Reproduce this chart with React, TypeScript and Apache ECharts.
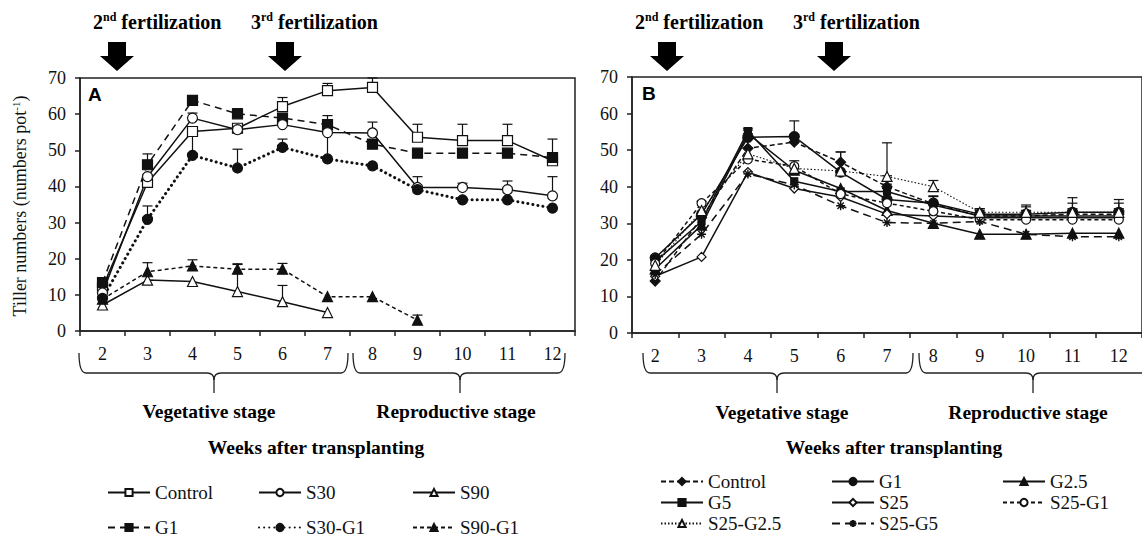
import React, { useEffect, useRef } from 'react';
import * as echarts from 'echarts';

const SERIF = 'Liberation Serif';
const SANS = 'Liberation Sans';
const INK = '#111';

const weeks = ['2', '3', '4', '5', '6', '7', '8', '9', '10', '11', '12'];
const yMin = 0;
const yMax = 70;
const yStep = 10;

// Panel A
const aControl = [12.0, 41.1, 55.2, 56.1, 62.1, 66.5, 67.4, 53.6, 52.7, 52.7, 47.1];
const aControlErr = [0, 1.2, 1.0, 0, 2.5, 2.0, 2.6, 3.6, 4.5, 4.5, 6.0];
const aG1 = [13.4, 46.0, 63.8, 60.1, 58.9, 57.1, 51.7, 49.2, 49.2, 49.2, 48.0];
const aG1Err = [0, 3.0, 0.8, 1.4, 1.2, 2.5, 1.2, 0, 0, 0, 1.0];
const aS30 = [10.5, 42.7, 58.9, 55.7, 57.1, 54.9, 54.8, 39.7, 39.7, 39.1, 37.4];
const aS30Err = [0, 0.5, 1.4, 0, 0, 0, 3.0, 3.0, 1.2, 2.4, 5.3];
const aS30G1 = [9.0, 30.9, 48.6, 45.1, 50.8, 47.6, 45.7, 39.1, 36.3, 36.3, 34.0];
const aS30G1Err = [0, 3.7, 6.5, 5.2, 2.3, 7.3, 0, 0, 0, 0, 0];
const aS90 = [7.2, 14.1, 13.7, 10.9, 8.1, 5.1, null, null, null, null, null];
const aS90Err = [0, 0, 0, 7.5, 4.5, 0, 0, 0, 0, 0, 0];
const aS90G1 = [8.8, 16.4, 18.0, 17.1, 17.1, 9.5, 9.5, 3.0, null, null, null];
const aS90G1Err = [0, 2.5, 1.7, 1.5, 1.6, 0, 0, 1.4, 0, 0, 0];

// Panel B
const bControl = [14.2, 31.5, 50.5, 52.2, 46.7, 40.0, 35.3, 32.0, 32.0, 32.5, 32.5];
const bControlErr = [0, 0, 0, 1.5, 2.8, 3.0, 2.0, 2.0, 2.5, 3.0, 3.0];
const bG1 = [20.5, 32.5, 53.5, 53.7, 44.0, 36.5, 35.5, 32.5, 32.5, 33.0, 33.0];
const bG1Err = [0, 0, 1.0, 4.3, 5.5, 3.0, 2.0, 1.5, 2.5, 4.0, 3.5];
const bG25 = [17.5, 29.5, 54.5, 44.5, 39.5, 33.5, 30.0, 27.0, 27.0, 27.3, 27.3];
const bG25Err = [0, 0, 1.0, 0, 0, 0, 0, 0, 0, 0, 0];
const bG5 = [19.5, 30.5, 55.2, 41.5, 38.7, 38.7, 35.0, 32.0, 32.0, 32.0, 32.0];
const bG5Err = [0, 0, 0.8, 0, 0, 2.0, 0, 1.0, 1.5, 2.0, 2.0];
const bS25 = [15.5, 20.8, 44.0, 39.5, 37.2, 32.5, 32.0, 31.5, 31.5, 31.5, 31.5];
const bS25Err = [0, 0, 0, 0, 0, 0, 0, 0, 0, 0, 0];
const bS25G1 = [19.0, 35.5, 47.5, 45.6, 38.0, 35.5, 33.3, 31.0, 31.0, 31.0, 31.0];
const bS25G1Err = [0, 0.5, 0, 1.5, 0, 0, 0, 0, 0, 0, 0];
const bS25G25 = [18.5, 33.5, 49.0, 45.0, 44.3, 42.8, 40.0, 33.0, 33.0, 33.0, 33.0];
const bS25G25Err = [0, 0, 0, 0, 0, 9.2, 1.7, 0.5, 0.5, 0.5, 0.5];
const bS25G5 = [16.0, 27.0, 43.5, 40.5, 34.8, 30.2, 30.0, 30.5, 27.0, 26.3, 26.3];
const bS25G5Err = [0, 0, 0, 0, 0, 0, 0, 0, 0, 0, 0];

const ASTERISK = 'path://M0,5L10,5M5,0L5,10M1.5,1.5L8.5,8.5M8.5,1.5L1.5,8.5';

type Spec = {
  name: string;
  data: (number | null)[];
  err: number[];
  symbol: string;
  size: number;
  filled: boolean;
  dash: any;
  width?: number;
  cap?: string;
};

const panelA: Spec[] = [
  { name: 'Control', data: aControl, err: aControlErr, symbol: 'rect', size: 10, filled: false, dash: 'solid' },
  { name: 'G1', data: aG1, err: aG1Err, symbol: 'rect', size: 10, filled: true, dash: [7, 5] },
  { name: 'S30', data: aS30, err: aS30Err, symbol: 'circle', size: 10, filled: false, dash: 'solid' },
  { name: 'S30-G1', data: aS30G1, err: aS30G1Err, symbol: 'circle', size: 10, filled: true, dash: [0.1, 5], width: 3, cap: 'round' },
  { name: 'S90', data: aS90, err: aS90Err, symbol: 'triangle', size: 10, filled: false, dash: 'solid' },
  { name: 'S90-G1', data: aS90G1, err: aS90G1Err, symbol: 'triangle', size: 10, filled: true, dash: [4, 3] },
];

const panelB: Spec[] = [
  { name: 'Control', data: bControl, err: bControlErr, symbol: 'diamond', size: 10, filled: true, dash: [5, 3] },
  { name: 'G1', data: bG1, err: bG1Err, symbol: 'circle', size: 10, filled: true, dash: 'solid' },
  { name: 'G2.5', data: bG25, err: bG25Err, symbol: 'triangle', size: 10, filled: true, dash: 'solid' },
  { name: 'G5', data: bG5, err: bG5Err, symbol: 'rect', size: 7, filled: true, dash: 'solid' },
  { name: 'S25', data: bS25, err: bS25Err, symbol: 'diamond', size: 9, filled: false, dash: 'solid' },
  { name: 'S25-G1', data: bS25G1, err: bS25G1Err, symbol: 'circle', size: 9, filled: false, dash: [4, 3] },
  { name: 'S25-G2.5', data: bS25G25, err: bS25G25Err, symbol: 'triangle', size: 10, filled: false, dash: [1.5, 2], width: 1.1 },
  { name: 'S25-G5', data: bS25G5, err: bS25G5Err, symbol: ASTERISK, size: 9, filled: false, dash: [8, 5] },
];

function lineSeries(s: Spec, idx: number, prefix: string) {
  return {
    type: 'line',
    name: prefix + s.name,
    xAxisIndex: idx,
    yAxisIndex: idx,
    data: s.data,
    symbol: s.symbol,
    symbolSize: s.size,
    connectNulls: false,
    z: 3,
    lineStyle: { color: INK, width: s.width ?? 1.5, type: s.dash, cap: s.cap ?? 'butt' },
    itemStyle: {
      color: s.filled ? INK : '#fff',
      borderColor: INK,
      borderWidth: s.symbol === ASTERISK ? 1.4 : 1.2,
    },
    emphasis: { disabled: true },
  };
}

function errorSeries(specs: Spec[], idx: number) {
  const data: number[][] = [];
  specs.forEach((s) => {
    s.data.forEach((v, i) => {
      if (v !== null && s.err[i] > 0) data.push([i, v, v + s.err[i]]);
    });
  });
  return {
    type: 'custom',
    xAxisIndex: idx,
    yAxisIndex: idx,
    z: 2,
    silent: true,
    clip: false,
    encode: { x: 0, y: [1, 2] },
    data,
    renderItem: (params: any, api: any) => {
      const x = api.value(0);
      const lo = api.coord([x, api.value(1)]);
      const hi = api.coord([x, api.value(2)]);
      const st = { stroke: INK, lineWidth: 1.2 };
      return {
        type: 'group',
        children: [
          { type: 'line', shape: { x1: lo[0], y1: lo[1], x2: hi[0], y2: hi[1] }, style: st },
          { type: 'line', shape: { x1: hi[0] - 5, y1: hi[1], x2: hi[0] + 5, y2: hi[1] }, style: st },
        ],
      };
    },
  };
}

function xAxis(idx: number) {
  return {
    type: 'category',
    gridIndex: idx,
    data: weeks,
    boundaryGap: true,
    axisLine: { lineStyle: { color: '#222', width: 1.5 } },
    axisTick: { show: true, length: 5, lineStyle: { color: '#222', width: 1.5 } },
    axisLabel: { fontFamily: SERIF, fontSize: 18, color: INK, margin: 14 },
    splitLine: { show: false },
  };
}

function yAxis(idx: number) {
  return {
    type: 'value',
    gridIndex: idx,
    min: yMin,
    max: yMax,
    interval: yStep,
    axisLine: { show: true, lineStyle: { color: '#222', width: 1.5 } },
    axisTick: { show: true, length: 5, lineStyle: { color: '#222', width: 1.5 } },
    axisLabel: { fontFamily: SERIF, fontSize: 18, color: INK, margin: 14 },
    splitLine: { show: false },
  };
}

function arrow(cx: number) {
  return {
    type: 'polygon',
    shape: {
      points: [
        [cx - 9, 42], [cx + 9, 42], [cx + 9, 56], [cx + 17, 56], [cx, 71], [cx - 17, 56], [cx - 9, 56],
      ],
    },
    style: { fill: '#000' },
  };
}

const boldRich = {
  b: { fontSize: 20, fontWeight: 'bold', fontFamily: SERIF, fill: '#000', lineHeight: 22 },
  s: { fontSize: 12, fontWeight: 'bold', fontFamily: SERIF, fill: '#000', lineHeight: 13, verticalAlign: 'top' },
};

function fertText(x: number, num: string, sup: string) {
  return {
    type: 'text',
    x,
    y: 22,
    style: {
      text: `{b|${num}}{s|${sup}}{b| fertilization}`,
      rich: boldRich,
      verticalAlign: 'middle',
    },
  };
}

function label(x: number, y: number, text: string) {
  return {
    type: 'text',
    x,
    y,
    style: {
      text,
      fontSize: 19.5,
      fontWeight: 'bold',
      fontFamily: SERIF,
      fill: '#000',
      align: 'center',
      verticalAlign: 'middle',
    },
  };
}

function brace(xa: number, xb: number, xm: number) {
  const yTop = 353;
  const yLine = 373;
  const yTip = 393;
  const r = 7;
  const st = { stroke: '#222', lineWidth: 1.3, fill: null };
  return [
    { type: 'bezierCurve', shape: { x1: xa, y1: yTop, cpx1: xa, cpy1: yLine, x2: xa + r, y2: yLine }, style: st },
    { type: 'line', shape: { x1: xa + r, y1: yLine, x2: xm - r, y2: yLine }, style: st },
    { type: 'bezierCurve', shape: { x1: xm - r, y1: yLine, cpx1: xm, cpy1: yLine, x2: xm, y2: yLine + r }, style: st },
    { type: 'bezierCurve', shape: { x1: xm + r, y1: yLine, cpx1: xm, cpy1: yLine, x2: xm, y2: yLine + r }, style: st },
    { type: 'line', shape: { x1: xm, y1: yLine + r, x2: xm, y2: yTip }, style: st },
    { type: 'line', shape: { x1: xm + r, y1: yLine, x2: xb - r, y2: yLine }, style: st },
    { type: 'bezierCurve', shape: { x1: xb - r, y1: yLine, cpx1: xb, cpy1: yLine, x2: xb, y2: yTop }, style: st },
  ];
}

function legend(left: number, top: number, gap: number, names: string[], strip: boolean) {
  return {
    show: true,
    orient: 'vertical',
    left,
    top,
    padding: 0,
    itemGap: gap,
    itemWidth: 42,
    itemHeight: 9,
    selectedMode: false,
    data: names,
    formatter: strip ? (n: string) => n.slice(2) : (n: string) => n,
    textStyle: { fontFamily: SERIF, fontSize: 19, color: INK, padding: [0, 0, 0, 0] },
  };
}

export default function App() {
  const ref = useRef<HTMLDivElement>(null);
  useEffect(() => {
    if (!ref.current) return;
    const chart = echarts.init(ref.current, undefined, { renderer: 'svg' });
    const option: any = {
      animation: false,
      backgroundColor: '#fff',
      grid: [
        { left: 80, top: 78, width: 495, height: 253, show: true, borderColor: '#222', borderWidth: 1.5 },
        { left: 632, top: 77, width: 521, height: 256, show: true, borderColor: '#222', borderWidth: 1.5 },
      ],
      xAxis: [xAxis(0), xAxis(1)],
      yAxis: [yAxis(0), yAxis(1)],
      legend: [
        legend(107, 483, 16, ['Control', 'G1'], false),
        legend(258, 483, 16, ['S30', 'S30-G1'], false),
        legend(412, 483, 16, ['S90', 'S90-G1'], false),
        legend(660, 472, 2, ['B:Control', 'B:G5', 'B:S25-G2.5'], true),
        legend(831, 472, 2, ['B:G1', 'B:S25', 'B:S25-G5'], true),
        legend(1002, 472, 2, ['B:G2.5', 'B:S25-G1'], true),
      ],
      series: [
        errorSeries(panelA, 0),
        ...panelA.map((s) => lineSeries(s, 0, '')),
        errorSeries(panelB, 1),
        ...panelB.map((s) => lineSeries(s, 1, 'B:')),
      ],
      graphic: [
        fertText(93, '2', 'nd'),
        fertText(251, '3', 'rd'),
        fertText(635, '2', 'nd'),
        fertText(793, '3', 'rd'),
        arrow(117),
        arrow(285),
        arrow(667),
        arrow(834),
        {
          type: 'text',
          x: 88,
          y: 94,
          style: { text: 'A', fontSize: 19, fontWeight: 'bold', fontFamily: SANS, fill: '#000', verticalAlign: 'middle' },
        },
        {
          type: 'text',
          x: 642,
          y: 93,
          style: { text: 'B', fontSize: 19, fontWeight: 'bold', fontFamily: SANS, fill: '#000', verticalAlign: 'middle' },
        },
        {
          type: 'text',
          x: 20,
          y: 206,
          rotation: Math.PI / 2,
          style: {
            text: '{n|Tiller numbers (numbers pot}{s|-1}{n|)}',
            rich: {
              n: { fontSize: 18, fontFamily: SERIF, fill: INK, lineHeight: 20 },
              s: { fontSize: 11, fontFamily: SERIF, fill: INK, lineHeight: 12, verticalAlign: 'top' },
            },
            align: 'center',
            verticalAlign: 'middle',
          },
        },
        ...brace(79, 348, 214),
        ...brace(353, 565, 460),
        ...brace(643, 913, 777),
        ...brace(919, 1160, 1033),
        label(209, 411, 'Vegetative stage'),
        label(456, 411, 'Reproductive stage'),
        label(316, 447, 'Weeks after transplanting'),
        label(782, 412, 'Vegetative stage'),
        label(1028, 412, 'Reproductive stage'),
        label(894, 447, 'Weeks after transplanting'),
      ],
    };
    chart.setOption(option);
    return () => chart.dispose();
  }, []);
  return (
    <div
      ref={ref}
      style={{ position: 'fixed', left: 0, top: 0, width: 1142, height: 537, background: '#fff' }}
    />
  );
}
